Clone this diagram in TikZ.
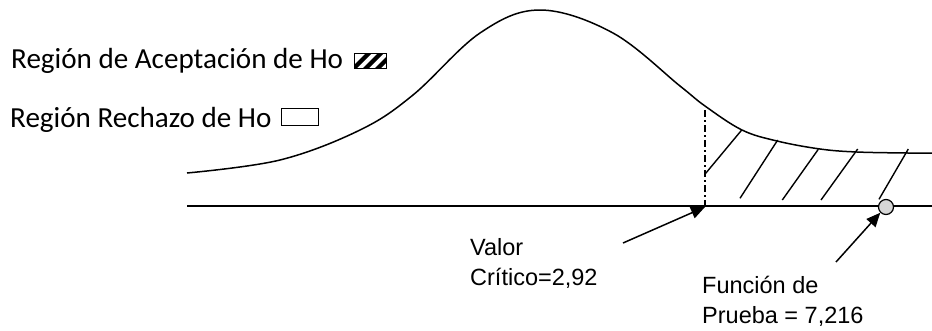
\documentclass[tikz,border=0pt]{standalone}
\usepackage{fontspec}
\setmainfont{Carlito}
\newfontfamily\arialf{Liberation Sans}
\usetikzlibrary{arrows.meta}
\begin{document}
\begin{tikzpicture}[x=1pt,y=-1pt,
  curvest/.style={line width=1.5pt, line join=round},
  axisst/.style={line width=1.9pt},
  hatchst/.style={line width=1.4pt},
  pointer/.style={line width=1.5pt, -{Triangle[length=14pt,width=12pt]}},
  lbl/.style={font=\arialf\fontsize{23.5}{30}\selectfont, align=left, anchor=base west, inner sep=0pt},
  legend/.style={font=\fontsize{29.1}{34}\selectfont, anchor=base west, inner sep=0pt}]
\useasboundingbox (0,0) rectangle (932,330);
% legend
\node[legend] (acc) at (11,68) {Región de Aceptación de Ho};
\node[legend] (rej) at (10,127) {Región Rechazo de Ho};
\begin{scope}
  \clip (354,53) rectangle (386,68);
  \foreach \s in {0,12,24,36} {
    \fill (351+\s,68) -- (357+\s,68) -- (372+\s,53) -- (366+\s,53) -- cycle;
  }
\end{scope}
\draw[line width=1pt] (354,53) rectangle (386,68);
\draw[line width=1pt] (281,108) rectangle (318,125);
% curve
\draw[curvest] plot[smooth, tension=0.6] coordinates {(187,173) (280,160) (360,130) (413,95) (480,33) (540,10) (613,33) (680,86) (705,106) (742,130) (777,141) (820,149) (857,152) (908,153) (932,153)};
% axis
\coordinate (ax0) at (187,206);
\coordinate (ax1) at (932,206);
\draw[axisst] (ax0) -- (ax1);
% critical value line
\coordinate (cvtop) at (705,110);
\coordinate (cv) at (705,207);
\draw[line width=1.5pt, dash pattern=on 7pt off 3pt on 2pt off 3pt] (cvtop) -- (cv);
% hatch lines
\draw[hatchst] (705.7,173.3) -- (741.7,130);
\draw[hatchst] (740,198.3) -- (777.7,140);
\draw[hatchst] (782.3,200) -- (818.3,149.3);
\draw[hatchst] (821,200) -- (857.7,149);
\draw[hatchst] (879,199.3) -- (908.3,149);
% test statistic point
\node[circle, draw, line width=1.2pt, fill=black!16, minimum size=15pt, inner sep=0pt] (tp) at (886,207) {};
% labels
\node[lbl] (valor) at (470,285) {Valor\\Crítico=2,92};
\node[lbl] (func) at (702,323) {Función de\\Prueba = 7,216};
\coordinate (a1s) at (623,243);
\coordinate (a2s) at (836,262);
\draw[pointer] (a1s) -- (cv);
\draw[pointer] (a2s) -- (tp.225);
\end{tikzpicture}
\end{document}
